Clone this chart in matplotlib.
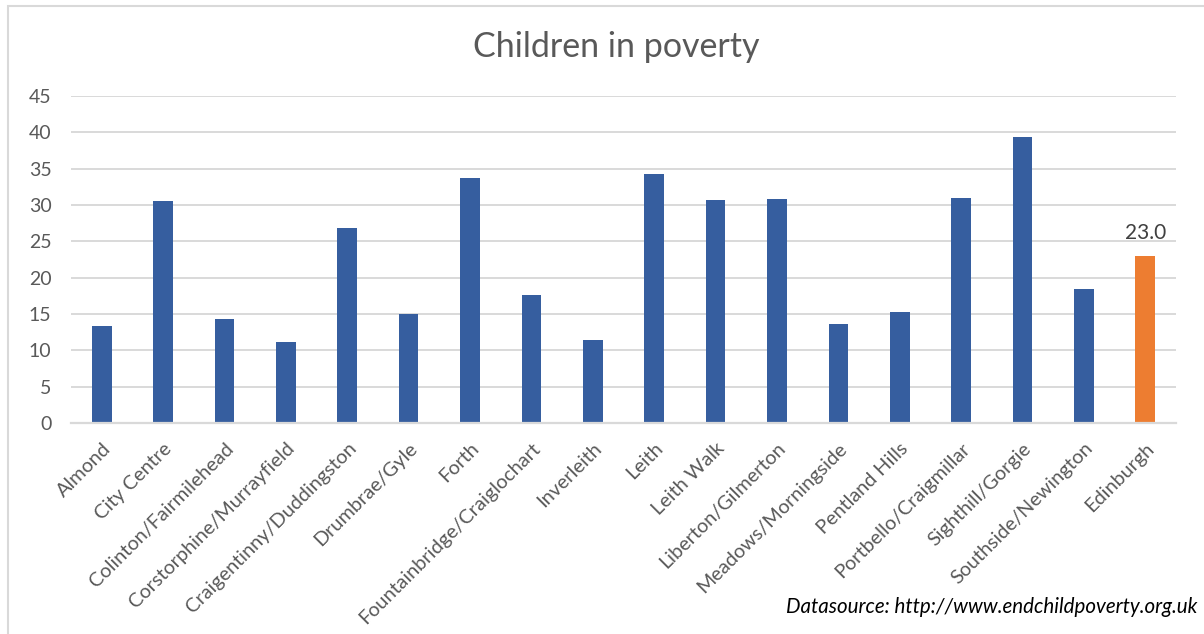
import matplotlib
matplotlib.use("Agg")
import matplotlib.pyplot as plt
from matplotlib.patches import Rectangle

categories = ["Almond", "City Centre", "Colinton/Fairmilehead", "Corstorphine/Murrayfield",
              "Craigentinny/Duddingston", "Drumbrae/Gyle", "Forth", "Fountainbridge/Craiglochart",
              "Inverleith", "Leith", "Leith Walk", "Liberton/Gilmerton", "Meadows/Morningside",
              "Pentland Hills", "Portbello/Craigmillar", "Sighthill/Gorgie", "Southside/Newington",
              "Edinburgh"]
values = [13.4, 30.5, 14.3, 11.2, 26.9, 15.0, 33.7, 17.6, 11.4, 34.2, 30.7, 30.8,
          13.6, 15.3, 31.0, 39.3, 18.5, 23.0]
yticks = [0, 5, 10, 15, 20, 25, 30, 35, 40, 45]

plt.rcParams['font.family'] = ['Lato', 'DejaVu Sans']

fig = plt.figure(figsize=(12.04, 6.34), dpi=100)
fig.patches.append(Rectangle((7.5/1204, -0.01), 1.1, 1 - 5.5/634 + 0.01, transform=fig.transFigure,
                             fill=False, edgecolor='#D9D9D9', linewidth=1.5))
ax = fig.add_axes([71/1204, 1 - 423/634, (1176 - 71)/1204, (423 - 96)/634])

colors = ['#365E9F'] * (len(categories) - 1) + ['#ED7D31']
x = list(range(len(categories)))
bars = ax.bar(x, values, width=0.32, color=colors, zorder=3)

ax.set_xlim(-0.5, len(categories) - 0.5)
ax.set_ylim(0, 45)
ax.set_yticks(yticks)
ax.set_yticklabels([str(t) for t in yticks], fontsize=14, color='#595959')
ax.yaxis.grid(True, color='#D9D9D9', linewidth=1.4, zorder=0)
ax.tick_params(axis='both', length=0)
ax.tick_params(axis='y', pad=14)
ax.set_xticks(x)
ax.set_xticklabels(categories, rotation=45, ha='right', rotation_mode='anchor',
                   fontsize=14.3, color='#595959')
ax.tick_params(axis='x', pad=12)
for s in ['top', 'right', 'left']:
    ax.spines[s].set_visible(False)
ax.spines['bottom'].set_color('#D9D9D9')
ax.spines['bottom'].set_linewidth(1.6)
ax.spines['bottom'].set_zorder(4)

ax.annotate(f"{values[-1]:.1f}", xy=(x[-1], values[-1]), xytext=(0, 9), textcoords='offset points',
            ha='center', va='bottom', fontsize=15, color='#404040')

fig.text(616/1204, 1 - 47/634, "Children in poverty", ha='center', va='center',
         fontsize=24.5, color='#595959')
fig.text(1197/1204, 1 - 607/634, "Datasource: http://www.endchildpoverty.org.uk", ha='right',
         va='center', fontsize=14.8, style='italic', color='#000000')

fig.savefig("out.png", dpi=100)
